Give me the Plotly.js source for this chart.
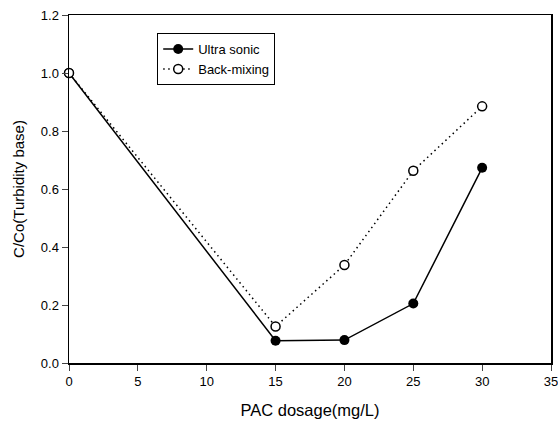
<!DOCTYPE html>
<html>
<head>
<meta charset="utf-8">
<script src="https://cdn.plot.ly/plotly-3.0.1.min.js"></script>
<style>html,body{margin:0;padding:0;background:#fff;}#chart{width:558px;height:423px;}</style>
</head>
<body>
<div id="chart"></div>
<script>
const dosage = [0, 15, 20, 25, 30];
const ultraSonic = [1.0, 0.077, 0.079, 0.205, 0.673];
const backMixing = [1.0, 0.126, 0.338, 0.663, 0.885];
const xTicks = [0, 5, 10, 15, 20, 25, 30, 35];
const yTicks = [0.0, 0.2, 0.4, 0.6, 0.8, 1.0, 1.2];
const yTickLabels = ["0.0", "0.2", "0.4", "0.6", "0.8", "1.0", "1.2"];

const font = "Liberation Sans, Arial, sans-serif";
const traces = [
  {
    x: dosage, y: ultraSonic, name: "Ultra sonic", type: "scatter", mode: "lines+markers",
    line: {color: "#000", width: 1.5},
    marker: {symbol: "circle", size: 10, color: "#000"},
    cliponaxis: false
  },
  {
    x: dosage, y: backMixing, name: "Back-mixing", type: "scatter", mode: "lines+markers",
    line: {color: "#000", width: 1.5, dash: "1.5px,3.5px"},
    marker: {symbol: "circle", size: 9, color: "#fff", line: {color: "#000", width: 1.5}},
    cliponaxis: false
  }
];
const layout = {
  width: 558, height: 423,
  margin: {l: 69, r: 7, t: 15, b: 60},
  paper_bgcolor: "#fff", plot_bgcolor: "#fff",
  font: {family: font, color: "#000", size: 13},
  showlegend: true,
  legend: {
    x: 0.183, y: 0.948, xanchor: "left", yanchor: "top",
    bordercolor: "#000", borderwidth: 1, bgcolor: "#fff",
    font: {family: font, size: 13, color: "#000"},
    tracegroupgap: 0
  },
  xaxis: {
    range: [0, 35], tickvals: xTicks, ticks: "outside", ticklen: 6, tickwidth: 1,
    ticklabeloverflow: "allow",
    showline: true, linecolor: "#000", linewidth: 1.5, mirror: true, showgrid: false, zeroline: false,
    tickfont: {family: font, size: 13},
    title: {text: "PAC dosage(mg/L)", font: {family: font, size: 16.5}, standoff: 16}
  },
  yaxis: {
    range: [0, 1.2], tickvals: yTicks, ticktext: yTickLabels, ticks: "outside", ticklen: 6, tickwidth: 1,
    showline: true, linecolor: "#000", linewidth: 1.5, mirror: true, showgrid: false, zeroline: false,
    tickfont: {family: font, size: 13},
    title: {text: "C/Co(Turbidity base)", font: {family: font, size: 15}, standoff: 12}
  }
};
Plotly.newPlot("chart", traces, layout, {displayModeBar: false, staticPlot: true});
</script>
</body>
</html>
